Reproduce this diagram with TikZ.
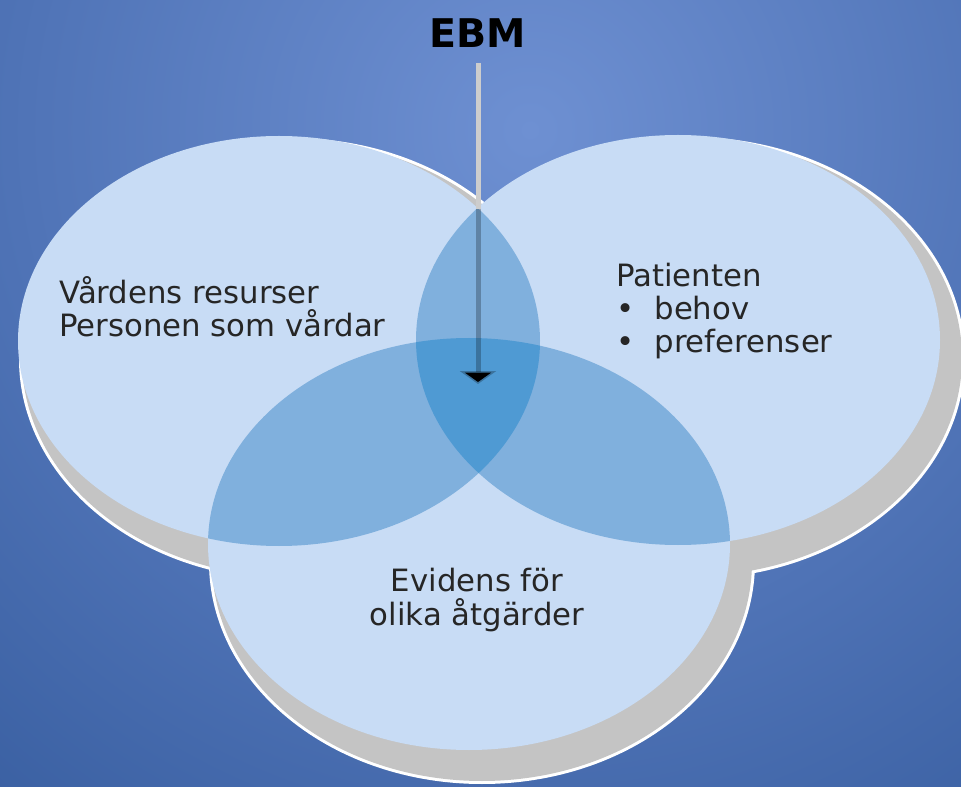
\documentclass[tikz,border=0pt]{standalone}
\usepackage{fontspec}
\setmainfont{DejaVu Sans}
\usetikzlibrary{positioning, arrows.meta}

\definecolor{bglight}{RGB}{110,144,210}
\definecolor{bgmid}{RGB}{80,116,183}
\definecolor{bgdark}{RGB}{56,94,160}
\definecolor{setfill}{RGB}{200,220,245}
\definecolor{pairfill}{RGB}{128,176,221}
\definecolor{corefill}{RGB}{79,154,211}
\definecolor{shadowgray}{RGB}{196,196,196}
\definecolor{stemgray}{RGB}{205,205,205}

% 25bp is the edge of the shaded circle
\pgfdeclareradialshading{backdrop}{\pgfpoint{0bp}{0bp}}{%
	color(0bp)=(bglight); color(14bp)=(bgmid); color(25bp)=(bgdark); color(50bp)=(bgdark)}

% the three sets (pixel grid, y downwards)
\newcommand{\careset}{(279,341) ellipse [x radius=261, y radius=205]}
\newcommand{\patientset}{(678,340) ellipse [x radius=262, y radius=205]}
\newcommand{\evidenceset}{(469,544) ellipse [x radius=261, y radius=206]}
% their shadows, grown towards the lower right
\newcommand{\careshadow}{(292,359) ellipse [x radius=270, y radius=218]}
\newcommand{\patientshadow}{(691,358) ellipse [x radius=271, y radius=218]}
\newcommand{\evidenceshadow}{(482,562) ellipse [x radius=270, y radius=219]}

\begin{document}
\begin{tikzpicture}[
		x=0.02cm, y=-0.02cm,
		label text/.style={font=\fontsize{17.5}{19}\selectfont,text=black!85,inner sep=0pt},
		stem/.style={line width=0.1cm,stemgray}
		]
		
		% Backdrop
		\begin{scope}
			\clip (0,0) rectangle (961,787);
			\shade[shading=backdrop] (530,130) circle [radius=900];
		\end{scope}
		\useasboundingbox (0,0) rectangle (961,787);
		
		% Shadows: white rim, grey body
		\draw[white,line width=0.12cm] \careshadow;
		\draw[white,line width=0.12cm] \patientshadow;
		\draw[white,line width=0.12cm] \evidenceshadow;
		\fill[shadowgray] \careshadow;
		\fill[shadowgray] \patientshadow;
		\fill[shadowgray] \evidenceshadow;
		
		% Sets
		\fill[setfill] \careset;
		\fill[setfill] \patientset;
		\fill[setfill] \evidenceset;
		
		% Pairwise overlaps
		\begin{scope}
			\clip \careset;
			\fill[pairfill] \patientset;
			\fill[pairfill] \evidenceset;
		\end{scope}
		\begin{scope}
			\clip \patientset;
			\fill[pairfill] \evidenceset;
		\end{scope}
		
		% Overlap of all three
		\begin{scope}
			\clip \careset;
			\clip \patientset;
			\fill[corefill] \evidenceset;
		\end{scope}
		
		% Labels
		\node[label text,anchor=west,align=left] (care) at (59,307) {Vårdens resurser\\Personen som vårdar};
		\node[label text,anchor=west,align=left] (patient) at (616,311) {Patienten\\\textbullet\hspace{0.4cm}behov\\\textbullet\hspace{0.4cm}preferenser};
		\node[label text,align=center] (evidence) at (477,600) {Evidens för\\olika åtgärder};
		
		% EBM pointer
		\node[font=\bfseries\fontsize{22.5}{24}\selectfont,inner sep=0pt] (ebm) at (478,33) {EBM};
		\coordinate (lens top) at (478,209);
		\coordinate (tip) at (478,384);
		\draw[stem] ([yshift=-0.3cm]ebm.south) -- (lens top);
		\draw[stem,draw=black,draw opacity=0.25,-{Triangle[width=0.72cm,length=0.26cm,fill=black]}] (lens top) -- (tip);
		
	\end{tikzpicture}
\end{document}
